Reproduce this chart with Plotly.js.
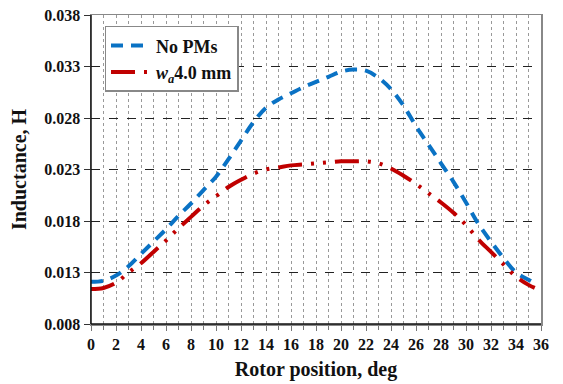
<!DOCTYPE html>
<html><head><meta charset="utf-8">
<script src="https://cdn.plot.ly/plotly-3.0.1.min.js"></script>
<style>body{margin:0;background:#fff}#c{width:563px;height:384px}</style>
</head><body><div id="c"></div>
<script>
const xNoPM = [0,1,2,3,4,5,6,7,8,9,10,11,12,13,14,15,16,17,18,19,20,21,22,23,24,25,26,27,28,29,30,31,32,33,34,35,35.3];
const yNoPM = [0.0121,0.0122,0.0127,0.0136,0.0148,0.0160,0.0172,0.0185,0.0197,0.0210,0.0223,0.0240,0.0258,0.0276,0.0290,0.0298,0.0304,0.0310,0.0315,0.0320,0.0325,0.0327,0.0326,0.0319,0.0308,0.0292,0.0272,0.0254,0.0236,0.0218,0.0198,0.0177,0.0160,0.0144,0.0130,0.0123,0.0121];
const xWa = [0,1,2,3,4,5,6,7,8,9,10,11,12,13,14,15,16,17,18,19,20,21,22,23,24,25,26,27,28,29,30,31,32,33,34,35,35.5];
const yWa = [0.0114,0.0115,0.0120,0.0130,0.0139,0.0150,0.0161,0.0173,0.0184,0.0195,0.0204,0.0213,0.0220,0.0226,0.0230,0.0232,0.0234,0.0235,0.0236,0.0237,0.0238,0.0238,0.0238,0.0236,0.0231,0.0224,0.0216,0.0207,0.0198,0.0188,0.0176,0.0162,0.0150,0.0138,0.0126,0.0118,0.0115];
const names = ["<b>No PMs</b>", "<b><i>w</i><sub><i>a</i></sub>4.0 mm</b>"];

const font = {family: "Liberation Serif, Times New Roman, serif", color: "#111"};
const traces = [
  {x: xNoPM, y: yNoPM, name: names[0], mode: "lines", line: {color: "#0a72c4", width: 4, dash: "12px,8px", shape: "spline"}},
  {x: xWa, y: yWa, name: names[1], mode: "lines", line: {color: "#c00000", width: 4, dash: "24px,9px,3px,9px,3px,9px", shape: "spline"}}
];
const layout = {
  width: 563, height: 384,
  margin: {l: 91, r: 22, t: 15, b: 60},
  paper_bgcolor: "#fff", plot_bgcolor: "#fff",
  font: Object.assign({size: 15}, font),
  showlegend: true,
  legend: {x: 0.03, y: 0.965, xanchor: "left", yanchor: "top", bgcolor: "#fff", bordercolor: "#888", borderwidth: 1.5,
           font: Object.assign({size: 18}, font), itemwidth: 40},
  xaxis: {range: [0, 36], tick0: 0, dtick: 2, tickformat: "d",
          showgrid: true, gridcolor: "#999", griddash: "dot", gridwidth: 1,
          minor: {dtick: 1, showgrid: true, gridcolor: "#999", griddash: "dot", gridwidth: 1, ticks: "outside", ticklen: 4, tickcolor: "#777"},
          ticks: "outside", ticklen: 5, tickcolor: "#777",
          showline: true, linecolor: "#888", linewidth: 1.5, mirror: true, zeroline: false,
          tickfont: Object.assign({size: 16}, font),
          title: {text: "<b>Rotor position, deg</b>", font: Object.assign({size: 20}, font), standoff: 10}},
  yaxis: {range: [0.008, 0.038], tick0: 0.008, dtick: 0.005, tickformat: ".3f",
          showgrid: true, gridcolor: "#222", griddash: "dash", gridwidth: 1,
          ticks: "outside", ticklen: 6, tickcolor: "#333",
          showline: true, linecolor: "#888", linewidth: 1.5, mirror: true, zeroline: false,
          tickfont: Object.assign({size: 16}, font),
          title: {text: "<b>Inductance, H</b>", font: Object.assign({size: 20}, font), standoff: 12}},
  shapes: [
    {type: "line", xref: "paper", yref: "paper", x0: 0, x1: 0, y0: 0, y1: 1, line: {color: "#111", width: 1.5}},
    {type: "line", xref: "paper", yref: "paper", x0: 0, x1: 1, y0: 0, y1: 0, line: {color: "#111", width: 1.5}}
  ]
};
Plotly.newPlot("c", traces, layout, {staticPlot: true}).then(() => {
  document.querySelectorAll(".xtick text, .ytick text").forEach(t => t.style.fontWeight = "bold");
});
</script></body></html>
